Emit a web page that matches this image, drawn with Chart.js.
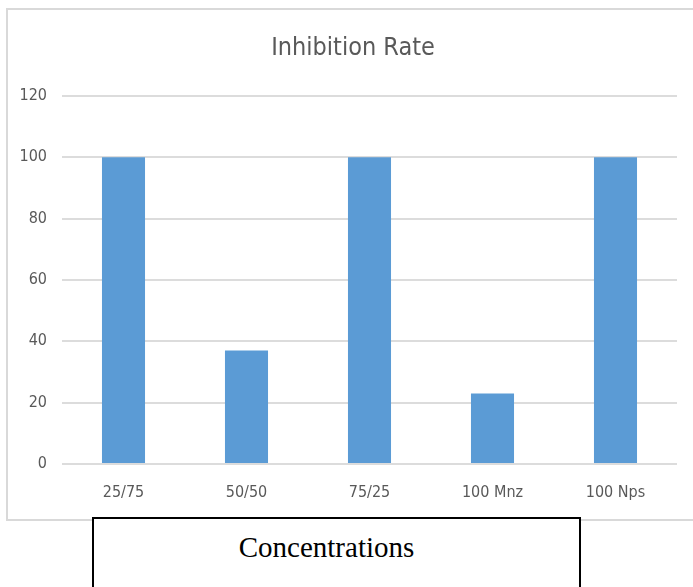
<!DOCTYPE html>
<html>
<head>
<meta charset="utf-8">
<script src="https://cdn.jsdelivr.net/npm/chart.js@4.4.0/dist/chart.umd.min.js"></script>
<style>
  html, body { margin: 0; padding: 0; background: #fff; width: 693px; height: 587px; overflow: hidden; }
  #clip { position: absolute; left: 0; top: 0; width: 693px; height: 587px; overflow: hidden; }
  #frame { position: absolute; left: 6px; top: 8px; width: 1000px; height: 509px; border: 2px solid #d9d9d9; border-right: none; box-sizing: content-box; }
  #wrap { position: absolute; left: 0; top: 0; width: 693px; height: 587px; }
  #axisbox { position: absolute; left: 92px; top: 517px; width: 465px; padding-right: 20px; height: 80px; border: 2px solid #000; background: #fff;
    font-family: "Liberation Serif", "Times New Roman", serif; font-size: 29px; color: #000; text-align: center; line-height: 56px; }
</style>
</head>
<body>
<div id="clip">
<div id="frame"></div>
<div id="wrap"><canvas id="c" width="693" height="587"></canvas></div>
<div id="axisbox">Concentrations</div>
</div>
<script>
const categories = ["25/75", "50/50", "75/25", "100 Mnz", "100 Nps"];
const inhibitionRate = [100, 37, 100, 23, 100];
const yTicks = [0, 20, 40, 60, 80, 100, 120];

const FONT = '"DejaVu Sans Condensed", "DejaVu Sans", sans-serif';
const TEXT = '#595959';

new Chart(document.getElementById('c'), {
  type: 'bar',
  data: {
    labels: categories,
    datasets: [{
      label: 'Inhibition Rate',
      data: inhibitionRate,
      backgroundColor: '#5B9BD5',
      borderWidth: 0,
      barPercentage: 0.35,
      categoryPercentage: 1.0
    }]
  },
  options: {
    responsive: false,
    animation: false,
    devicePixelRatio: 1,
    layout: { padding: { left: 14, right: 1, top: 0, bottom: 73 } },
    plugins: {
      legend: { display: false },
      tooltip: { enabled: false },
      title: {
        display: true,
        text: 'Inhibition Rate',
        color: TEXT,
        font: { family: FONT, size: 25, weight: 'normal' },
        padding: { top: 33, bottom: 33 }
      }
    },
    scales: {
      x: {
        grid: { display: false, drawTicks: false },
        border: { display: false },
        ticks: { color: TEXT, font: { family: FONT, size: 16 }, padding: 19, maxRotation: 0 },
        afterFit: s => { s.height = 50; }
      },
      y: {
        min: 0, max: 120,
        afterBuildTicks: s => { s.ticks = yTicks.map(v => ({ value: v })); },
        grid: { color: '#dcdcdc', lineWidth: 2, drawTicks: false },
        border: { display: false },
        ticks: { color: TEXT, font: { family: FONT, size: 16 }, padding: 15 },
        afterFit: s => { s.width = 48; }
      },
      yRight: {
        position: 'right',
        min: 0, max: 120,
        grid: { display: false, drawTicks: false },
        border: { display: false },
        ticks: { display: false },
        afterFit: s => { s.width = 15; }
      }
    }
  }
});
</script>
</body>
</html>
